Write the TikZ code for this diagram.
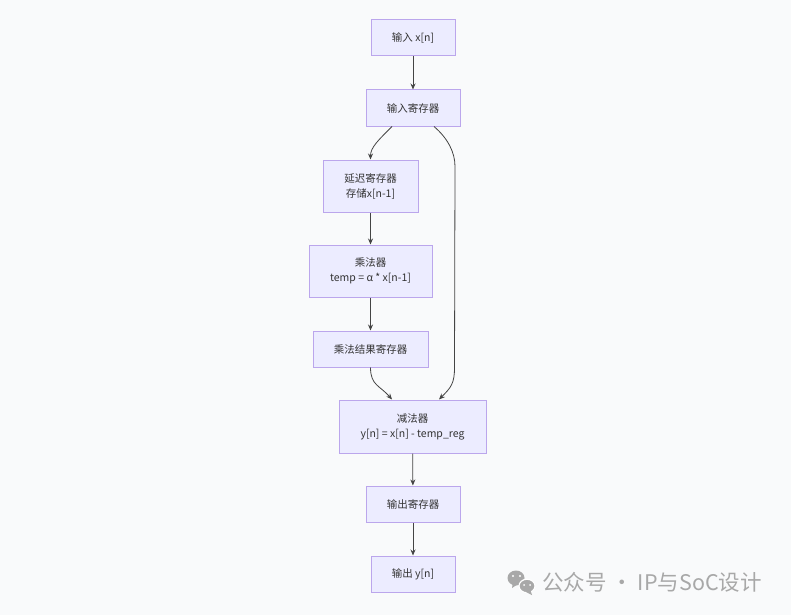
\documentclass[tikz,border=0pt]{standalone}
\usepackage{fontspec}
\setmainfont{Noto Sans CJK SC}
\usetikzlibrary{arrows.meta}
\definecolor{boxfill}{HTML}{ECECFF}
\definecolor{boxline}{HTML}{BBA6EC}
\definecolor{edgecol}{HTML}{444444}
\definecolor{bgcol}{HTML}{F9FAFB}
\definecolor{wmcol}{HTML}{A8A8A8}
\begin{document}
\begin{tikzpicture}[x=1pt,y=-1pt,
  flowbox/.style={draw=boxline,fill=boxfill,line width=1pt,align=center,
    font=\fontsize{10.5}{15}\selectfont,text=black!80,inner sep=0pt},
  flowedge/.style={draw=edgecol,line width=0.8pt,-{Stealth[length=6pt,width=5pt]}}]
\fill[bgcol] (0,0) rectangle (791,615);
\useasboundingbox (0,0) rectangle (791,615);
\node[flowbox,minimum width=84pt,minimum height=36pt] (n1) at (413,38) {输入 x[n]};
\node[flowbox,minimum width=94pt,minimum height=36pt] (n2) at (413,108) {输入寄存器};
\node[flowbox,minimum width=95pt,minimum height=52pt] (n3) at (370.5,186) {延迟寄存器\\存储x[n-1]};
\node[flowbox,minimum width=123pt,minimum height=52pt] (n4) at (370.5,271) {乘法器\\temp = α * x[n-1]};
\node[flowbox,minimum width=115pt,minimum height=36pt] (n5) at (370.5,349) {乘法结果寄存器};
\node[flowbox,minimum width=147pt,minimum height=53pt] (n6) at (412.5,426.5) {减法器\\y[n] = x[n] - temp\_reg};
\node[flowbox,minimum width=94pt,minimum height=36pt] (n7) at (413,504) {输出寄存器};
\node[flowbox,minimum width=84pt,minimum height=36pt] (n8) at (413,574) {输出 y[n]};
\draw[flowedge] (n1) -- (n2);
\draw[flowedge] ([xshift=-21pt]n2.south) .. controls +(-14,14) and +(0,-12) .. (n3.north);
\draw[flowedge] (n3) -- (n4);
\draw[flowedge] (n4) -- (n5);
\draw[flowedge] (n5.south) .. controls +(0,18) and +(-12,-14) .. ([xshift=-20.5pt]n6.north);
\draw[flowedge] ([xshift=21pt]n2.south) .. controls +(14,12) and +(0,-14) .. ([xshift=42pt,yshift=-40pt]n2.south)
  -- ([xshift=42pt,yshift=32pt]n6.north) .. controls +(0,16) and +(12,-12) .. ([xshift=26.5pt]n6.north);
\draw[flowedge] (n6) -- (n7);
\draw[flowedge] (n7) -- (n8);
% watermark
\begin{scope}[wmcol]
\fill (516,578) ellipse (8.5pt and 7.5pt);
\fill (512,588) -- (513,582) -- (518,584) -- cycle;
\fill[white] (513,576) circle (1.2pt);
\fill[white] (520,576) circle (1.2pt);
\draw[white,line width=1.2pt,fill=wmcol] (527,586) ellipse (8pt and 6.8pt);
\fill (532,595) -- (530,589) -- (526,592) -- cycle;
\fill[white] (524,585) circle (1pt);
\fill[white] (530,585) circle (1pt);
\node[anchor=west,font=\fontsize{21.5}{22}\selectfont,text=wmcol,inner sep=0pt] (wm) at (542,582) {公众号 · IP与SoC设计};
\end{scope}
\end{tikzpicture}
\end{document}
